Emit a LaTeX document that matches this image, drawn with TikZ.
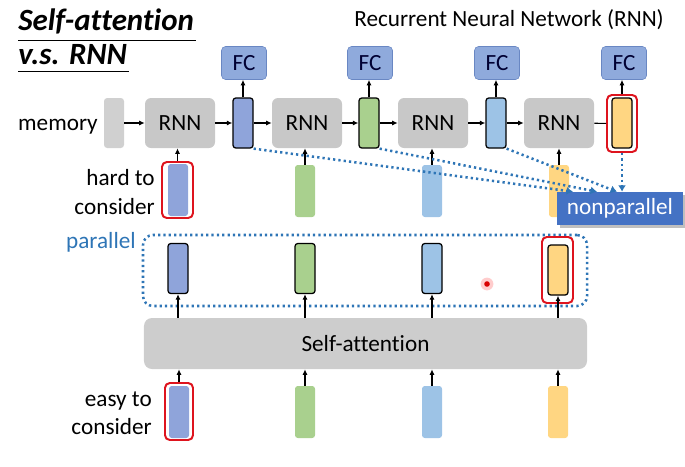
\documentclass[tikz,border=0pt]{standalone}
\usepackage{fontspec}
\setmainfont{Carlito}[RawFeature={-liga;-clig;-calt}]
\usepackage{tikz}
\usetikzlibrary{arrows.meta,shadows}
\definecolor{vblue}{RGB}{143,164,218}
\definecolor{vgreen}{RGB}{169,208,142}
\definecolor{vsky}{RGB}{157,195,230}
\definecolor{vyellow}{RGB}{255,214,130}
\definecolor{fcfill}{RGB}{143,170,220}
\definecolor{fcline}{RGB}{105,135,195}
\definecolor{cellgray}{RGB}{200,200,200}
\definecolor{dotblue}{RGB}{46,117,182}
\definecolor{npblue}{RGB}{68,114,196}
\definecolor{mark}{RGB}{222,20,30}
\tikzstyle{rnnbox}=[rectangle,rounded corners=1.5mm,fill=cellgray,
                    minimum width=17.5mm,minimum height=12.5mm,font=\fontsize{16.5}{19}\selectfont]
\tikzstyle{membox}=[rectangle,rounded corners=0.8mm,fill=cellgray!85,
                    minimum width=5mm,minimum height=12.5mm,inner sep=0pt]
\tikzstyle{fcbox}=[rectangle,rounded corners=1mm,fill=fcfill,draw=fcline,
                   minimum width=11.25mm,minimum height=8.25mm,
                   text={black!80!blue},font=\fontsize{16.5}{19}\selectfont]
\tikzstyle{hvec}=[rectangle,rounded corners=0.7mm,draw=black,line width=0.9pt,
                  minimum width=5mm,minimum height=12.5mm,inner sep=0pt]
\tikzstyle{invec}=[rectangle,rounded corners=0.7mm,
                   minimum width=5mm,minimum height=13mm,inner sep=0pt]
\tikzstyle{redframe}=[rectangle,rounded corners=1.2mm,draw=mark,line width=1.4pt,
                      inner sep=0pt]
\tikzstyle{flow}=[-{Latex[length=1.4mm,width=1.3mm]},line width=0.8pt]
\tikzstyle{dotflow}=[-{Latex[length=1.6mm,width=2mm]},dotblue,
                     dash pattern=on 1.6pt off 2.2pt,line width=1.8pt]
\tikzstyle{label}=[font=\fontsize{16.5}{20}\selectfont,inner sep=0pt]

\begin{document}
\begin{tikzpicture}[x=0.25mm,y=-0.25mm]
    \useasboundingbox (0,0) rectangle (685,466);
    \newcommand{\hy}{123}
    % titles
    \node (t1) at (18,21) [anchor=west,inner sep=0pt,
        font=\fontsize{22}{25}\selectfont\bfseries\itshape]{Self-attention};
    \node (t2) at (18,55) [anchor=west,inner sep=0pt,
        font=\fontsize{22}{25}\selectfont\bfseries\itshape]{v.s. RNN};
    \draw[line width=0.6pt] ([yshift=-1.5mm]t1.south west) -- ([yshift=-1.5mm,xshift=0.5mm]t1.south east);
    \draw[line width=0.6pt] ([yshift=-1.5mm]t2.south west) -- ([yshift=-1.5mm,xshift=0.5mm]t2.south east);
    \node (rnnt) at (509,20) [label]{Recurrent Neural Network (RNN)};

    % recurrent row
    \node (mtext) at (98,127) [label,anchor=east]{memory};
    \node (m) at (114,\hy) [membox]{};
    \node (r1) at (180,\hy) [rnnbox]{RNN};
    \node (r2) at (307,\hy) [rnnbox]{RNN};
    \node (r3) at (433,\hy) [rnnbox]{RNN};
    \node (r4) at (559,\hy) [rnnbox]{RNN};
    \node (h1) at (243,\hy) [hvec,fill=vblue]{};
    \node (h2) at (369,\hy) [hvec,fill=vgreen]{};
    \node (h3) at (496,\hy) [hvec,fill=vsky]{};
    \node (h4) at (622,\hy) [hvec,fill=vyellow]{};
    \node (h4f) at (622,123.5) [redframe,minimum width=7.5mm,minimum height=14.25mm]{};
    \node (fc1) at (244,63) [fcbox]{FC};
    \node (fc2) at (370,63) [fcbox]{FC};
    \node (fc3) at (497,63) [fcbox]{FC};
    \node (fc4) at (624,63) [fcbox]{FC};
    \draw[flow] (m) -- (r1);
    \draw[flow] (r1) -- (h1);
    \draw[flow] (h1) -- (r2);
    \draw[flow] (r2) -- (h2);
    \draw[flow] (h2) -- (r3);
    \draw[flow] (r3) -- (h3);
    \draw[flow] (h3) -- (r4);
    \draw[line width=0.8pt] (r4) -- (h4f);
    \draw[flow] (h1) -- (h1 |- fc1.south);
    \draw[flow] (h2) -- (h2 |- fc2.south);
    \draw[flow] (h3) -- (h3 |- fc3.south);
    \draw[flow] (h4f) -- (h4f |- fc4.south);

    % inputs of the RNN
    \node (htext) at (155,192) [label,anchor=east,align=right]{hard to\\consider};
    \node (i1) at (178,190) [invec,fill=vblue]{};
    \node (i2) at (305,191) [invec,fill=vgreen]{};
    \node (i3) at (432,191) [invec,fill=vsky]{};
    \node (i4) at (559,191) [invec,fill=vyellow]{};
    \node (i1f) at (177.5,190) [redframe,minimum width=7.75mm,minimum height=14mm]{};
    \draw[flow] (i1f) -- (i1f |- r1.south);
    \draw[flow] (i2) -- (i2 |- r2.south);
    \draw[flow] (i3) -- (i3 |- r3.south);
    \draw[flow] (i4) -- (i4 |- r4.south);

    % nonparallel
    \node (np) at (620,208.5) [rectangle,fill=npblue,text=white,drop shadow,
        minimum width=31.5mm,minimum height=8.25mm,label]{nonparallel};
    \draw[dotflow] (h1.south east) -- ([xshift=-11.75mm]np.north);
    \draw[dotflow] (h2.south east) -- ([xshift=-5.75mm]np.north);
    \draw[dotflow] (h3.south east) -- ([xshift=-0.75mm]np.north);
    \draw[dotflow] (h4f) -- (h4f |- np.north);

    % self-attention
    \node (ptext) at (136,242) [label,anchor=east,text=dotblue]{parallel};
    \node (pbox) at (365,270.5) [rectangle,rounded corners=2.5mm,draw=dotblue,
        dash pattern=on 1.6pt off 2.2pt,line width=1.8pt,
        minimum width=111mm,minimum height=17.75mm]{};
    \node (p1) at (178,268.5) [hvec,fill=vblue]{};
    \node (p2) at (305,268.5) [hvec,fill=vgreen]{};
    \node (p3) at (432,268.5) [hvec,fill=vsky]{};
    \node (p4) at (558,270) [hvec,fill=vyellow]{};
    \node (p4f) at (557.5,270) [redframe,minimum width=7.75mm,minimum height=16.5mm]{};
    \node (sa) at (365.5,343.5) [rectangle,rounded corners=2mm,fill=cellgray!90,
        minimum width=110.75mm,minimum height=12.75mm,label]{Self-attention};
    \draw[flow] (sa.north -| p1) -- (p1);
    \draw[flow] (sa.north -| p2) -- (p2);
    \draw[flow] (sa.north -| p3) -- (p3);
    \draw[flow] (sa.north -| p4) -- (p4);

    % inputs of self-attention
    \node (etext) at (152,413) [label,anchor=east,align=right]{easy to\\consider};
    \node (b1) at (179,412) [invec,fill=vblue]{};
    \node (b2) at (305,412) [invec,fill=vgreen]{};
    \node (b3) at (432,412) [invec,fill=vsky]{};
    \node (b4) at (558,412) [invec,fill=vyellow]{};
    \node (b1f) at (179,411.5) [redframe,minimum width=7mm,minimum height=14.25mm]{};
    \draw[flow] (b1f) -- (b1f |- sa.south);
    \draw[flow] (b2) -- (b2 |- sa.south);
    \draw[flow] (b3) -- (b3 |- sa.south);
    \draw[flow] (b4) -- (b4 |- sa.south);

    % pointer
    \fill[red!20] (487,284) circle [radius=1.6mm];
    \fill[red!85!black] (487,284) circle [radius=0.7mm];
\end{tikzpicture}
\end{document}
